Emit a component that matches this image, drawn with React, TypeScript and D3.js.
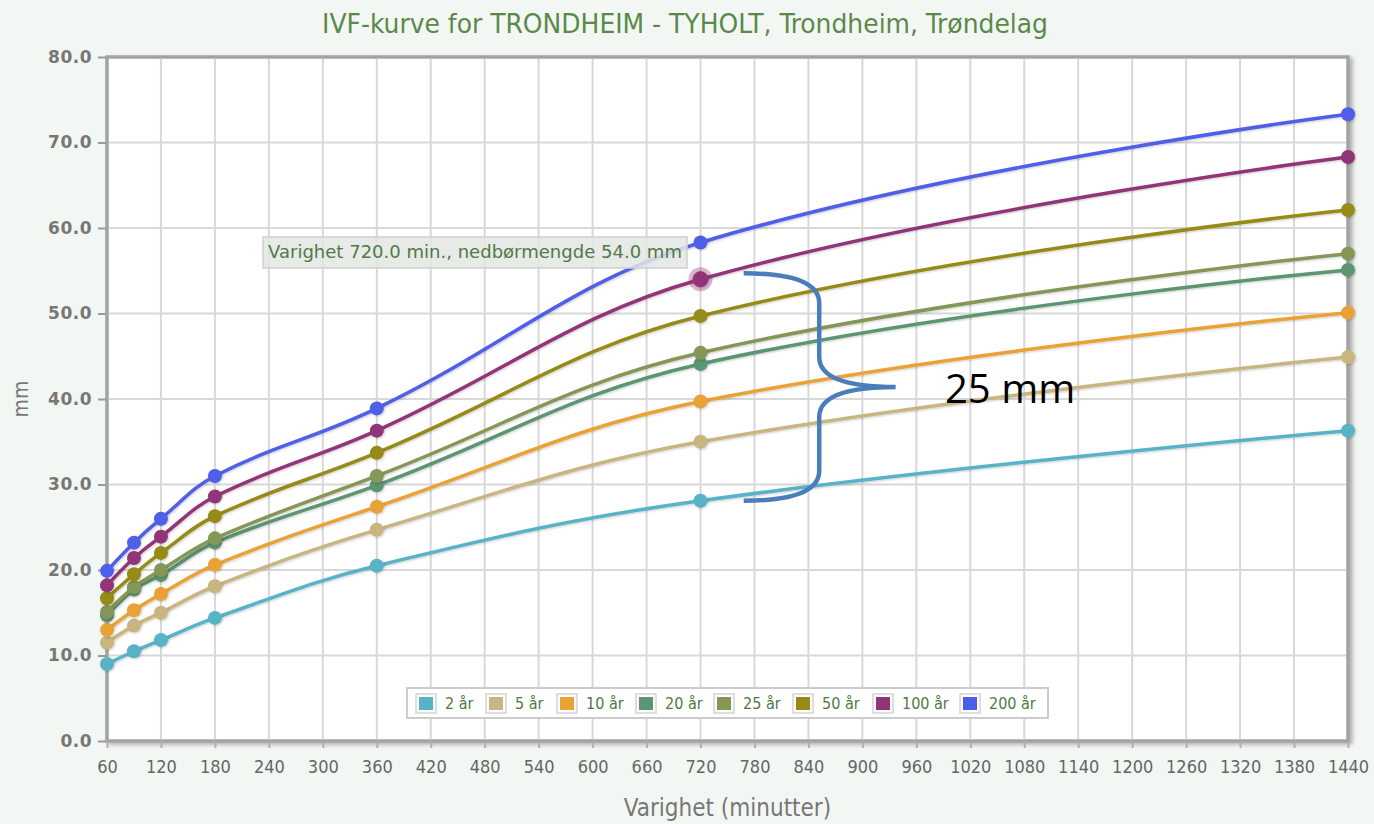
import React, { useEffect, useRef } from 'react';
import * as d3 from 'd3';

const durations = [60, 90, 120, 180, 360, 720, 1440];
const seriesNames = ['2 år', '5 år', '10 år', '20 år', '25 år', '50 år', '100 år', '200 år'];
const seriesColors = ['#58b3c6', '#c9b57f', '#e8a235', '#5b9571', '#849756', '#968b18', '#923478', '#4f5ee8'];
const values2 = [9.0, 10.5, 11.8, 14.4, 20.5, 28.1, 36.3];
const values5 = [11.5, 13.5, 15.0, 18.1, 24.7, 35.0, 44.9];
const values10 = [13.0, 15.3, 17.2, 20.6, 27.4, 39.7, 50.1];
const values20 = [14.7, 17.7, 19.4, 23.2, 29.9, 44.1, 55.1];
const values25 = [15.1, 18.0, 20.0, 23.7, 31.0, 45.4, 57.0];
const values50 = [16.7, 19.5, 22.0, 26.3, 33.7, 49.7, 62.1];
const values100 = [18.2, 21.4, 23.9, 28.6, 36.3, 54.0, 68.3];
const values200 = [19.9, 23.2, 26.0, 31.0, 38.9, 58.3, 73.3];
const allValues = [values2, values5, values10, values20, values25, values50, values100, values200];
const xTicks = d3.range(60, 1441, 60);
const yTicks = [0, 10, 20, 30, 40, 50, 60, 70, 80];

const titleText = 'IVF-kurve for TRONDHEIM - TYHOLT, Trondheim, Trøndelag';
const annotationText = '25 mm';
const hoverSeries = 6;
const hoverIndex = 5;

const W = 1374;
const H = 824;
const condensed = '"DejaVu Sans Condensed", "Liberation Sans Narrow", sans-serif';

// Highcharts-style spline through points [x, y]
function splinePath(pts: [number, number][]) {
    const smoothing = 1.5;
    const denom = smoothing + 1;
    const p = d3.path();
    let prevRight: [number, number] | null = null;
    pts.forEach((pt, i) => {
        const [px, py] = pt;
        if (i === 0) {
            p.moveTo(px, py);
            return;
        }
        const last = pts[i - 1];
        const next = pts[i + 1];
        let lcx = px, lcy = py, rcx = px, rcy = py;
        if (next) {
            lcx = (smoothing * px + last[0]) / denom;
            lcy = (smoothing * py + last[1]) / denom;
            rcx = (smoothing * px + next[0]) / denom;
            rcy = (smoothing * py + next[1]) / denom;
            if (rcx !== lcx) {
                const corr = ((rcy - lcy) * (rcx - px)) / (rcx - lcx) + py - rcy;
                lcy += corr;
                rcy += corr;
            }
            if (lcy > last[1] && lcy > py) {
                lcy = Math.max(last[1], py);
                rcy = 2 * py - lcy;
            } else if (lcy < last[1] && lcy < py) {
                lcy = Math.min(last[1], py);
                rcy = 2 * py - lcy;
            }
            if (rcy > next[1] && rcy > py) {
                rcy = Math.max(next[1], py);
                lcy = 2 * py - rcy;
            } else if (rcy < next[1] && rcy < py) {
                rcy = Math.min(next[1], py);
                lcy = 2 * py - rcy;
            }
        }
        const c1 = prevRight || last;
        p.bezierCurveTo(c1[0], c1[1], lcx, lcy, px, py);
        prevRight = next ? [rcx, rcy] : null;
    });
    return p.toString();
}

function IvfChart() {
    const ref = useRef<SVGSVGElement>(null);

    useEffect(() => {
        const svg = d3.select(ref.current);
        svg.selectAll('*').remove();

        const left = 107, right = 1348, top = 57, bottom = 741;
        const x = d3.scaleLinear().domain([60, 1440]).range([left, right]);
        const y = d3.scaleLinear().domain([0, 80]).range([bottom, top]);

        svg.append('rect').attr('width', W).attr('height', H).attr('fill', '#f3f7f3');

        const defs = svg.append('defs');
        const sh = defs.append('filter').attr('id', 'shadow').attr('x', '-50%').attr('y', '-50%').attr('width', '200%').attr('height', '200%');
        sh.append('feDropShadow').attr('dx', 1).attr('dy', 1).attr('stdDeviation', 1).attr('flood-color', '#000').attr('flood-opacity', 0.2);
        const fsh = defs.append('filter').attr('id', 'frameShadow').attr('x', '-5%').attr('y', '-5%').attr('width', '110%').attr('height', '110%');
        fsh.append('feDropShadow').attr('dx', 3).attr('dy', 2).attr('stdDeviation', 2).attr('flood-color', '#000').attr('flood-opacity', 0.3);

        // plot area
        svg.append('rect')
            .attr('x', left).attr('y', top)
            .attr('width', right - left).attr('height', bottom - top)
            .attr('fill', '#fff')
            .attr('stroke', '#a3a3a3')
            .attr('stroke-width', 3)
            .attr('filter', 'url(#frameShadow)');

        // grid
        svg.append('g').selectAll('line').data(xTicks.slice(1, -1)).enter().append('line')
            .attr('x1', (d) => x(d)).attr('x2', (d) => x(d))
            .attr('y1', top).attr('y2', bottom)
            .attr('stroke', '#d8d8d8').attr('stroke-width', 2);
        svg.append('g').selectAll('line').data(yTicks.slice(1, -1)).enter().append('line')
            .attr('x1', left).attr('x2', right)
            .attr('y1', (d) => y(d)).attr('y2', (d) => y(d))
            .attr('stroke', '#d8d8d8').attr('stroke-width', 2);

        svg.append('rect')
            .attr('x', left).attr('y', top)
            .attr('width', right - left).attr('height', bottom - top)
            .attr('fill', 'none')
            .attr('stroke', '#a3a3a3')
            .attr('stroke-width', 3);

        // y axis
        const yAxis = svg.append('g')
            .attr('transform', `translate(${left - 1},0)`)
            .call(d3.axisLeft(y).tickValues(yTicks).tickFormat(d3.format('.1f')).tickSize(8).tickPadding(6));
        yAxis.select('.domain').remove();
        yAxis.selectAll('line').attr('stroke', '#9a9a9a').attr('stroke-width', 2);
        yAxis.selectAll('text')
            .attr('fill', '#777').attr('font-size', 17).attr('font-weight', 'bold')
            .attr('letter-spacing', 0.5)
            .attr('font-family', '"DejaVu Sans", Verdana, sans-serif');

        // x axis
        const xAxis = svg.append('g')
            .attr('transform', `translate(0,${bottom + 1})`)
            .call(d3.axisBottom(x).tickValues(xTicks).tickFormat(d3.format('d')).tickSize(6).tickPadding(12));
        xAxis.select('.domain').remove();
        xAxis.selectAll('line').attr('stroke', '#b0b0b0').attr('stroke-width', 2);
        xAxis.selectAll('text')
            .attr('fill', '#666').attr('font-size', 18)
            .attr('font-family', condensed);

        // axis titles
        svg.append('text')
            .attr('x', x(750)).attr('y', 816)
            .attr('text-anchor', 'middle')
            .attr('fill', '#777').attr('font-size', 24)
            .attr('font-family', condensed)
            .text('Varighet (minutter)');
        svg.append('text')
            .attr('transform', `translate(28,${y(40)}) rotate(-90)`)
            .attr('text-anchor', 'middle')
            .attr('fill', '#777').attr('font-size', 21)
            .attr('font-family', condensed)
            .text('mm');

        // title
        svg.append('text')
            .attr('x', 685).attr('y', 33)
            .attr('text-anchor', 'middle')
            .attr('fill', '#5a8a4a').attr('font-size', 27)
            .attr('font-family', condensed)
            .attr('textLength', 726).attr('lengthAdjust', 'spacingAndGlyphs')
            .text(titleText);

        // series
        const seriesG = svg.append('g');
        allValues.forEach((vals, si) => {
            const pts: [number, number][] = vals.map((v, i) => [x(durations[i]), y(v)]);
            const g = seriesG.append('g');
            g.append('path')
                .attr('d', splinePath(pts))
                .attr('fill', 'none')
                .attr('stroke', seriesColors[si])
                .attr('stroke-width', 3.5)
                .attr('filter', 'url(#shadow)');
            if (si === hoverSeries) {
                g.append('circle')
                    .attr('cx', x(durations[hoverIndex])).attr('cy', y(vals[hoverIndex]))
                    .attr('r', 12).attr('fill', seriesColors[si]).attr('opacity', 0.35);
            }
            g.selectAll('circle.pt').data(vals).enter().append('circle')
                .attr('class', 'pt')
                .attr('cx', (_, i) => x(durations[i]))
                .attr('cy', (d) => y(d))
                .attr('r', (_, i) => (si === hoverSeries && i === hoverIndex ? 8 : 7))
                .attr('fill', seriesColors[si])
                .attr('filter', 'url(#shadow)');
        });

        // tooltip
        const tipVal = allValues[hoverSeries][hoverIndex];
        const tipText = `Varighet ${durations[hoverIndex].toFixed(1)} min., nedbørmengde ${tipVal.toFixed(1)} mm`;
        const tip = svg.append('g');
        tip.append('rect')
            .attr('x', 263).attr('y', 237).attr('width', 424).attr('height', 31)
            .attr('fill', '#e4e6e4').attr('fill-opacity', 0.85)
            .attr('stroke', '#cfcfcf').attr('stroke-width', 1.5);
        tip.append('text')
            .attr('x', 268).attr('y', 258)
            .attr('fill', '#4f7a45').attr('font-size', 17)
            .attr('font-family', '"DejaVu Sans", sans-serif')
            .attr('textLength', 414).attr('lengthAdjust', 'spacingAndGlyphs')
            .text(tipText);

        // legend
        const legend = svg.append('g');
        legend.append('rect')
            .attr('x', 407).attr('y', 688).attr('width', 641).attr('height', 30)
            .attr('fill', '#fff').attr('stroke', '#cccccc').attr('stroke-width', 2);
        const itemX = [416, 486, 557, 636, 714, 793, 873, 960];
        seriesNames.forEach((name, i) => {
            const gx = itemX[i];
            legend.append('rect')
                .attr('x', gx).attr('y', 694).attr('width', 20).attr('height', 19)
                .attr('fill', '#fff').attr('stroke', '#d4d4d4').attr('stroke-width', 1.5);
            legend.append('rect')
                .attr('x', gx + 3).attr('y', 697).attr('width', 14).attr('height', 13)
                .attr('fill', seriesColors[i]);
            legend.append('text')
                .attr('x', gx + 29).attr('y', 709)
                .attr('fill', '#4f7a45').attr('font-size', 16)
                .attr('font-family', condensed)
                .text(name);
        });

        // annotation brace: spread between 2 år and 100 år at 720 min
        const topV = allValues[6][5];
        const botV = allValues[0][5];
        const bTop = y(topV) - 6;
        const bBot = y(botV);
        const bMid = (bTop + bBot) / 2;
        const bx0 = x(768), bx1 = x(852), bx2 = x(937);
        const brace = d3.path();
        brace.moveTo(bx0, bTop);
        brace.bezierCurveTo(bx0 + 45, bTop, bx1, bTop + 8, bx1, bTop + 30);
        brace.lineTo(bx1, bMid - 30);
        brace.bezierCurveTo(bx1, bMid - 8, bx1 + 30, bMid, bx2, bMid);
        brace.bezierCurveTo(bx1 + 30, bMid, bx1, bMid + 8, bx1, bMid + 30);
        brace.lineTo(bx1, bBot - 30);
        brace.bezierCurveTo(bx1, bBot - 8, bx0 + 45, bBot, bx0, bBot);
        svg.append('path')
            .attr('d', brace.toString())
            .attr('fill', 'none')
            .attr('stroke', '#4a7ebb')
            .attr('stroke-width', 4.5);
        svg.append('text')
            .attr('x', 945).attr('y', bMid + 16)
            .attr('fill', '#000').attr('font-size', 40)
            .attr('font-family', '"Open Sans", Carlito, Calibri, sans-serif')
            .text(annotationText);
    });

    return <svg ref={ref} width={W} height={H} style={{ position: 'absolute', left: 0, top: 0 }} />;
}

export default function App() {
    return <IvfChart />;
}
